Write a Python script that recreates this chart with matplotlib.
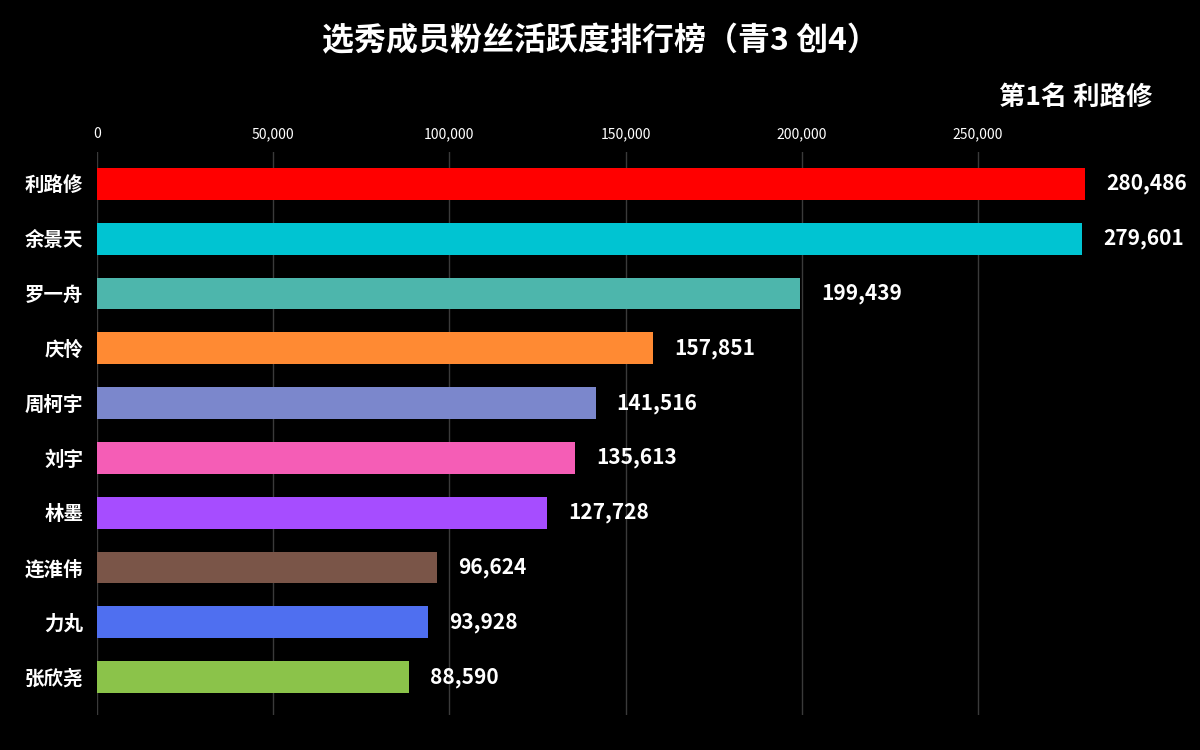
import matplotlib
matplotlib.use("Agg")
import matplotlib.pyplot as plt
from matplotlib.ticker import FuncFormatter

plt.rcParams['font.family'] = ['Noto Sans CJK SC', 'DejaVu Sans']

# data
names = ["利路修", "余景天", "罗一舟", "庆怜", "周柯宇", "刘宇", "林墨", "连淮伟", "力丸", "张欣尧"]
values = [280486, 279601, 199439, 157851, 141516, 135613, 127728, 96624, 93928, 88590]
colors = ["#ff0000", "#00c4d2", "#4db6ac", "#ff8a33", "#7b87cc",
          "#f55db6", "#a64dff", "#7a5548", "#4f6ff0", "#8bc34a"]
ticks = [0, 50000, 100000, 150000, 200000, 250000]

fig = plt.figure(figsize=(12, 7.5), dpi=100, facecolor="black")
ax = fig.add_axes([97 / 1200, 35 / 750, 1057 / 1200, 563 / 750])
ax.set_facecolor("black")

y = list(range(len(names)))
ax.barh(y, values, height=0.58, color=colors, zorder=2)

for yi, v in zip(y, values):
    ax.text(v + 6000, yi, f"{v:,}", va="center", ha="left", color="white",
            fontsize=15, fontweight="bold")

ax.set_xlim(0, 300000)
ax.set_ylim(9.69, -0.58)
ax.set_xticks(ticks)
ax.xaxis.set_major_formatter(FuncFormatter(lambda x, p: f"{int(x):,}"))
ax.xaxis.tick_top()
ax.tick_params(axis="x", colors="white", labelsize=10, length=0, pad=8)
ax.set_yticks(y)
ax.set_yticklabels(names, fontsize=14, fontweight="bold", color="white")
ax.tick_params(axis="y", length=0, pad=10)
ax.grid(axis="x", color="#3a3a3a", linewidth=1, zorder=0)
for s in ax.spines.values():
    s.set_visible(False)

fig.text(0.5, 0.945, "选秀成员粉丝活跃度排行榜（青3 创4）", ha="center", va="center",
         color="white", fontsize=23, fontweight="bold")
fig.text(0.96, 0.87, "第1名 利路修", ha="right", va="center",
         color="white", fontsize=19, fontweight="bold")

fig.savefig("out.png", dpi=100, facecolor="black")
